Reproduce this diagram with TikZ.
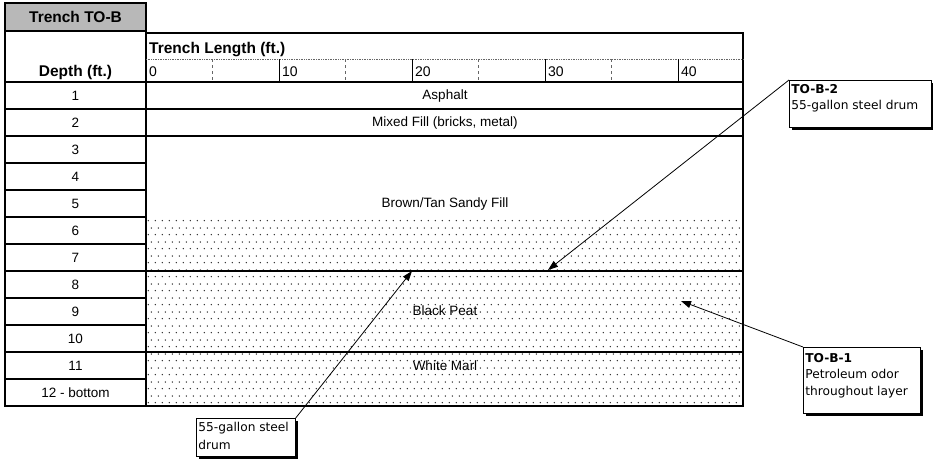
\documentclass[tikz,border=0pt]{standalone}
\usepackage{fontspec}
\setmainfont{Liberation Sans}
\newfontfamily\calloutfont{DejaVu Sans}
\usetikzlibrary{arrows.meta,patterns,shadows}
\pgfdeclarepatternformonly{sdots}{\pgfqpoint{0pt}{0pt}}{\pgfqpoint{7pt}{14pt}}{\pgfqpoint{7pt}{14pt}}{%
  \pgfpathcircle{\pgfqpoint{1.5pt}{1.5pt}}{0.8pt}%
  \pgfpathcircle{\pgfqpoint{5pt}{8.5pt}}{0.8pt}%
  \pgfusepath{fill}}
\begin{document}
\begin{tikzpicture}[x=1pt,y=-1pt,
  thickline/.style={line width=2.2pt},
  rowline/.style={line width=1.3pt},
  hdr/.style={font=\fontsize{15.5}{18}\selectfont\bfseries, inner sep=0pt},
  depthlbl/.style={font=\fontsize{13.5}{15}\selectfont, inner sep=0pt},
  layerlbl/.style={font=\fontsize{13.5}{15}\selectfont, inner sep=0pt},
  scalelbl/.style={font=\fontsize{14}{16}\selectfont, inner sep=0pt, anchor=west},
  titlebox/.style={draw=black, line width=2.2pt, fill=black!28, minimum width=141pt, minimum height=28pt, inner sep=0pt, font=\fontsize{15.5}{18}\selectfont\bfseries},
  callout/.style={draw=black, line width=0.7pt, fill=white, inner sep=0pt, anchor=north west,
    font=\calloutfont\fontsize{12.2}{16}\selectfont,
    drop shadow={shadow xshift=2.2pt, shadow yshift=-2.2pt, opacity=1, fill=black}},
  pointer/.style={line width=0.8pt, -{Triangle[length=10pt,width=7pt]}}
]
\useasboundingbox (0,0) rectangle (933,459);

% dotted layers
\fill[pattern=sdots, pattern color=black!85] (147,218) rectangle (742,405);

% title
\node[titlebox] (title) at (75.5,17) {Trench TO-B};

% frames
\draw[thickline] (5,31) rectangle (146,406);
\draw[thickline] (146,33) rectangle (743,406);
\draw[line width=2.5pt] (5,82) -- (743,82);

% depth rows
\foreach \k in {1,...,11} {\draw[rowline] (5,{82+27*\k}) -- (146,{82+27*\k});}
% layer boundaries
\foreach \d in {1,2,7,10} {\draw[rowline] (146,{82+27*\d}) -- (743,{82+27*\d});}

% scale row
\draw[densely dotted, black!60, line width=0.7pt] (146,59) -- (743,59);
\foreach \i in {1,2,3,4} {\draw[line width=0.9pt] ({146+133*\i},59) -- ({146+133*\i},82);}
\foreach \i in {0,...,3} {\draw[dashed, black!60, line width=0.6pt] ({212.5+133*\i},59) -- ({212.5+133*\i},82);}
\foreach \i/\t in {0/0,1/10,2/20,3/30,4/40} {\node[scalelbl] (s\i) at ({149+133*\i},72) {\t};}

% headers
\node[hdr, anchor=west] (tl) at (149,50) {Trench Length (ft.)};
\node[hdr] (dh) at (75.5,72) {Depth (ft.)};

% depth labels
\foreach \k in {1,...,11} {\node[depthlbl] (d\k) at (75.5,{68.5+27*\k}) {\k};}
\node[depthlbl] (d12) at (75.5,392.5) {12 - bottom};

% layer labels
\node[layerlbl] (asphalt) at (445,96) {Asphalt};
\node[layerlbl] (mixed) at (445,123) {Mixed Fill (bricks, metal)};
\node[layerlbl] (sandy) at (445,204) {Brown/Tan Sandy Fill};
\node[layerlbl] (peat) at (445,311) {Black Peat};
\node[layerlbl] (marl) at (445,366) {White Marl};

% callouts
\node[callout] (c2) at (789,80) {\parbox[c][47pt][t]{142pt}{\hspace{2pt}\rule{0pt}{13pt}\textbf{TO-B-2}\\\hspace*{2pt}55-gallon steel drum}};
\node[callout] (c1) at (803,347) {\parbox[c][66pt][t]{117pt}{\setlength{\baselineskip}{16.5pt}\hspace{2pt}\rule{0pt}{15pt}\textbf{TO-B-1}\\\hspace*{2pt}Petroleum odor\\\hspace*{2pt}throughout layer}};
\node[callout] (c3) at (196,418) {\parbox[c][38pt][t]{99pt}{\setlength{\baselineskip}{18pt}\hspace{2pt}\rule{0pt}{13pt}55-gallon steel\\\hspace*{2pt}drum}};

% arrow tips
\coordinate (t2) at (548,270);
\coordinate (t1) at (681,301);
\coordinate (t3) at (412,271);

\draw[pointer] (c2.north west) -- (t2);
\draw[pointer] (c1.north west) -- (t1);
\draw[pointer] (c3.north east) -- (t3);
\end{tikzpicture}
\end{document}
